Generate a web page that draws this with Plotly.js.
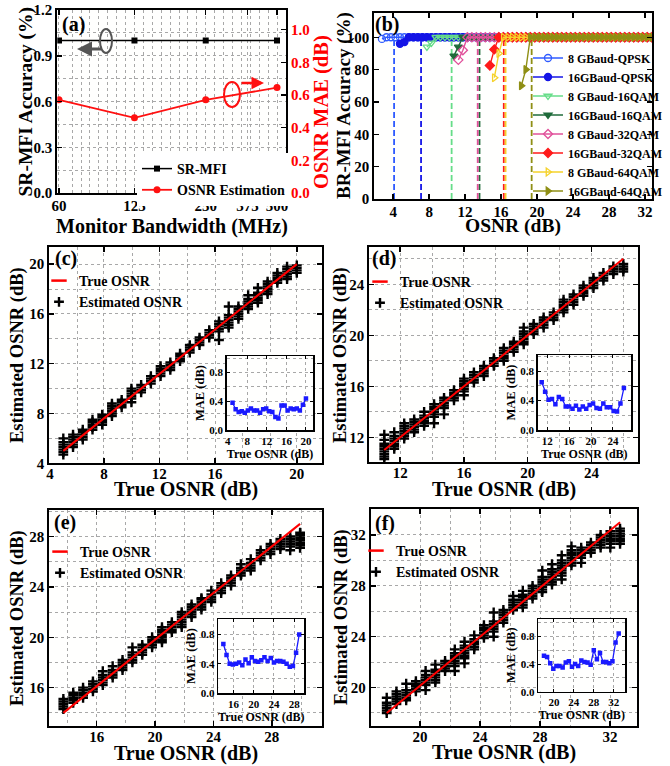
<!DOCTYPE html>
<html><head><meta charset="utf-8">
<script src="https://cdn.plot.ly/plotly-3.0.1.min.js"></script>
<style>html,body{margin:0;padding:0;background:#fff}#chart{width:670px;height:766px}</style>
</head><body><div id="chart"></div>
<script>
// ================= DATA =================
// (a) monitor bandwidth study
const bandwidthMHz = [60, 125, 250, 500];
const bandwidthTicks = [60, 125, 250, 375, 500];
const srMfiAccuracy = [1.0, 1.0, 1.0, 1.0];
const osnrMaeA = [0.57, 0.46, 0.57, 0.645];

// (b) BR-MFI accuracy vs OSNR
const seriesNamesB = ['8 GBaud-QPSK','16GBaud-QPSK','8 GBaud-16QAM','16GBaud-16QAM',
                      '8 GBaud-32QAM','16GBaud-32QAM','8 GBaud-64QAM','16GBaud-64QAM'];
const osnrGridB = [2.75,3.25,3.75,4.25,4.75,5.25,5.75,6.25,6.75,7.25,7.75,8.25,8.75,9.25,9.75,
  10.25,10.75,11.25,11.75,12.25,12.75,13.25,13.75,14.25,14.75,15.25,15.75,16.25,16.75,17.25,
  17.75,18.25,18.75,19.25,19.75,20.25,20.75,21.25,21.75,22.25,22.75,23.25,23.75,24.25,24.75,
  25.25,25.75,26.25,26.75,27.25,27.75,28.25,28.75,29.25,29.75,30.25,30.75,31.25,31.75,32.25,32.75];
const acc8QPSK = [99,
  100,100,100,100,100,100,100,100,100,100,
  100,100,100,100,100,100,100,100,100,100,
  100,100,100,100,100,100,100,100,100,100,
  100,100,100,100,100,100,100,100,100,100,
  100,100,100,100,100,100,100,100,100,100,
  100,100,100,100,100,100,100,100,100,100];
const acc16QPSK = [96,97,
  100,100,100,100,100,100,100,100,100,100,
  100,100,100,100,100,100,100,100,100,100,
  100,100,100,100,100,100,100,100,100,100,
  100,100,100,100,100,100,100,100,100,100,
  100,100,100,100,100,100,100,100,100,100,
  100,100,100,100,100];
const acc8QAM16 = [94,96.5,
  100,100,100,100,100,100,100,100,100,100,
  100,100,100,100,100,100,100,100,100,100,
  100,100,100,100,100,100,100,100,100,100,
  100,100,100,100,100,100,100,100,100,100,
  100,100,100,100,100,100,100,100,100];
const acc16QAM16 = [88.5,94,
  100,100,100,100,100,100,100,100,100,100,
  100,100,100,100,100,100,100,100,100,100,
  100,100,100,100,100,100,100,100,100,100,
  100,100,100,100,100,100,100,100,100,100,
  100,100,100];
const acc8QAM32 = [86,92,
  100,100,100,100,100,100,100,100,100,100,
  100,100,100,100,100,100,100,100,100,100,
  100,100,100,100,100,100,100,100,100,100,
  100,100,100,100,100,100,100,100,100,100,
  100,100];
const acc16QAM32 = [82.5,92.5,
  100,100,100,100,100,100,100,100,100,100,
  100,100,100,100,100,100,100,100,100,100,
  100,100,100,100,100,100,100,100,100,100,
  100,100,100,100,100];
const acc8QAM64 = [75,90,
  100,100,100,100,100,100,100,100,100,100,
  100,100,100,100,100,100,100,100,100,100,
  100,100,100,100,100,100,100,100,100,100,
  100,100,100,100];
const acc16QAM64 = [70,80,
  100,100,100,100,100,100,100,100,100,100,
  100,100,100,100,100,100,100,100,100,100,
  100,100,100,100,100,100,100,100];
const thresholdOsnrB = [4.1, 7.1, 10.5, 13.6, 13.4, 16.3, 16.5, 19.4];
const thresholdSpanB = [0, 100];

// (c)-(f) OSNR estimation
const trueC = [5,5.625,6.25,6.875,7.5,8.125,8.75,9.375,10,10.625,11.25,11.875,12.5,13.125,13.75,14.375,15,15.625,16.25,16.875,17.5,18.125,18.75,19.375,20];
const estC = [[4.7,4.9,5.1,5.3,5.5,5.7,6.0],[5.3,5.5,5.7,5.9,6.1,6.3],[5.9,6.1,6.3,6.5,6.7],[6.7,6.9,7.1,7.3,7.5],
  [7.1,7.3,7.5,7.7,7.9],[7.8,8.0,8.2,8.4,8.6,8.8],[8.5,8.7,8.9,9.1],[8.9,9.2,9.4,9.6,9.8,10.0],[9.7,9.9,10.1,10.3],
  [10.4,10.6,10.8,11.0],[11.0,11.2,11.4,11.6,11.8],[11.5,11.7,11.9,12.1],[12.2,12.4,12.6,12.8],[12.9,13.1,13.3,13.5],
  [13.5,13.7,13.9,14.1],[14.1,14.3,14.5,14.7],[13.9,14.6,14.8,15.0,15.2,15.4],[14.9,15.1,15.3,15.5,15.7,15.9,16.6],
  [15.6,15.8,16.0,16.2,16.4,16.6],[16.4,16.6,16.8,17.0,17.2,17.5],[16.9,17.1,17.3,17.5,17.7,18.1],[17.6,17.8,18.0,18.2,18.4,18.6],
  [18.5,18.7,18.9,19.1,19.3],[18.8,19.0,19.2,19.4,19.6,19.8],[19.3,19.5,19.7,19.9]];
const maeC = [0.38,0.29,0.25,0.26,0.24,0.27,0.30,0.27,0.27,0.24,0.29,0.30,0.26,0.25,0.18,0.16,0.34,0.34,0.27,0.30,0.29,0.30,0.27,0.35,0.44];

const trueD = [11,11.625,12.25,12.875,13.5,14.125,14.75,15.375,16,16.625,17.25,17.875,18.5,19.125,19.75,20.375,21,21.625,22.25,22.875,23.5,24.125,24.75,25.375,26];
const estD = [[10.3,10.5,10.7,10.9,11.1,11.3,11.5,11.8,12.2],[11.1,11.3,11.5,11.7,11.9,12.1,12.4],[11.9,12.1,12.3,12.5,12.7,12.9,13.1],
  [12.4,12.6,12.8,13.0,13.2,13.4],[12.9,13.1,13.3,13.5,13.7,14.0],[13.1,13.6,13.8,14.0,14.2,14.4,14.6],[13.8,14.3,14.5,14.7,14.9,15.1],
  [14.9,15.1,15.3,15.5,15.7],[15.3,15.6,15.8,16.0,16.2,16.4,16.6],[16.3,16.5,16.7,16.9,17.1],[16.8,17.0,17.2,17.4,17.6],
  [17.6,17.8,18.0,18.2],[18.0,18.2,18.4,18.6,18.8,19.0],[18.7,18.9,19.1,19.3,19.5],[19.3,19.5,19.7,19.9,20.1,20.3,20.6],
  [20.1,20.3,20.5,20.7,20.9],[20.6,20.8,21.0,21.2,21.4],[21.2,21.4,21.6,21.8],[21.8,22.0,22.2,22.4,22.6,22.8],
  [22.4,22.6,22.8,23.0,23.2],[23.1,23.3,23.5,23.7,23.9],[23.7,23.9,24.1,24.3,24.5],[24.3,24.5,24.7,24.9],[24.8,25.0,25.2,25.4],[25.0,25.2,25.4,25.6]];
const maeD = [0.65,0.52,0.41,0.42,0.35,0.45,0.42,0.32,0.32,0.29,0.33,0.28,0.32,0.29,0.34,0.36,0.30,0.29,0.36,0.31,0.31,0.26,0.25,0.36,0.57];

const trueE = [14,14.625,15.25,15.875,16.5,17.125,17.75,18.375,19,19.625,20.25,20.875,21.5,22.125,22.75,23.375,24,24.625,25.25,25.875,26.5,27.125,27.75,28.375,29];
const estE = [[14.3,14.5,14.7,14.9,15.1],[14.8,15.0,15.2,15.4,15.6],[15.2,15.4,15.6,15.8,16.0],[15.7,15.9,16.1,16.3,16.5],
  [16.2,16.4,16.6,16.8,17.0,17.3],[16.8,17.0,17.2,17.4,17.7],[17.4,17.6,17.8,18.0,18.2],[18.0,18.2,18.4,18.6,18.8,19.2],
  [18.6,18.8,19.0,19.2,19.4],[19.2,19.4,19.6,19.8,20.0],[19.6,19.8,20.0,20.2,20.4,20.6,20.8],[20.4,20.6,20.8,21.0,21.2],
  [20.8,21.0,21.2,21.4,21.6,21.8,22.0],[21.6,21.8,22.0,22.2,22.4,22.6],[22.2,22.4,22.6,22.8,23.0,23.1],[22.8,23.0,23.2,23.4,23.7],
  [23.5,23.7,23.9,24.1,24.3],[24.1,24.3,24.5,24.7,24.9],[24.9,25.1,25.3,25.5,25.8],[25.3,25.5,25.7,25.9,26.2],
  [26.1,26.3,26.5,26.7,26.9],[26.6,26.8,27.0,27.2,27.4],[27.0,27.2,27.4,27.6,27.8],[26.9,27.2,27.4,27.6,27.8,28.0],[27.1,27.3,27.5,27.7,27.9,28.1,28.3]];
const maeE = [0.67,0.52,0.40,0.39,0.40,0.42,0.38,0.46,0.41,0.49,0.44,0.43,0.45,0.49,0.44,0.48,0.42,0.44,0.44,0.43,0.40,0.36,0.37,0.55,0.80];

const trueF = [18,18.625,19.25,19.875,20.5,21.125,21.75,22.375,23,23.625,24.25,24.875,25.5,26.125,26.75,27.375,28,28.625,29.25,29.875,30.5,31.125,31.75,32.375,33];
const estF = [[18.0,18.2,18.4,18.6,18.8,19.2],[18.7,18.9,19.1,19.3,19.5,19.7],[19.0,19.2,19.4,19.6,19.8,20.3],[19.7,19.9,20.1,20.3,20.5],
  [19.8,20.2,20.4,20.6,20.8,21.0,21.3],[20.4,20.6,20.8,21.0,21.2,21.4,21.8],[21.3,21.5,21.7,21.9,22.1],[21.3,21.7,21.9,22.1,22.3,22.5,22.7,23.0],
  [21.9,22.3,22.5,22.7,22.9,23.1,23.3,23.6],[23.0,23.2,23.4,23.6,23.8,24.1],[23.9,24.1,24.3,24.5,24.7,24.9],[24.0,24.4,24.6,24.8,25.0,25.2,25.9],
  [25.1,25.3,25.5,25.7,25.9,26.1],[26.1,26.3,26.5,26.7,26.9,27.2],[26.3,26.5,26.7,26.9,27.1,27.3,27.6],[27.0,27.2,27.4,27.6,27.8,28.0],
  [27.5,27.7,27.9,28.1,28.3,28.5,28.7,29.2],[28.1,28.3,28.5,28.7,28.9,29.1,29.3,29.7],[28.5,28.8,29.0,29.2,29.4,29.6,29.8,30.0,30.4],
  [29.6,29.8,30.0,30.2,30.4,30.6,30.8,31.1],[29.8,30.2,30.4,30.6,30.8,31.0],[30.6,30.8,31.0,31.2,31.4],[31.0,31.2,31.4,31.6,31.8,32.0],
  [31.0,31.3,31.5,31.7,31.9,32.1,32.3],[31.3,31.5,31.7,31.9,32.1,32.3,32.5]];
const maeF = [0.52,0.50,0.41,0.33,0.37,0.37,0.35,0.42,0.44,0.36,0.40,0.37,0.45,0.43,0.42,0.39,0.60,0.47,0.56,0.43,0.43,0.41,0.44,0.71,0.84];

// ================= STYLE HELPERS =================
const FONT = "'Liberation Serif','Times New Roman',Times,serif";
function fnt(size, color) { return {family: FONT, size: size, color: color || 'black', weight: 'bold'}; }
const GRID = {showgrid: true, gridcolor: '#a8a8a8', griddash: 'dot', gridwidth: 1};
function ax(o) {
  return Object.assign({showline: true, linewidth: 2, linecolor: 'black', mirror: 'ticks', ticks: 'inside',
    ticklen: 5, tickwidth: 1.5, tickcolor: 'black', tickfont: fnt(15), zeroline: false,
    showgrid: false, automargin: false}, o);
}
function axIn(o) {
  return Object.assign({showline: true, linewidth: 1.5, linecolor: 'black', mirror: 'ticks', ticks: 'inside',
    ticklen: 3, tickwidth: 1, tickcolor: 'black', tickfont: fnt(11), zeroline: false,
    automargin: false}, GRID, o);
}
function minorGrid(o) { return Object.assign({ticks: '', showgrid: true, gridcolor: '#a8a8a8', griddash: 'dot', gridwidth: 1}, o); }
function legendAt(xpx, ypx, size, bg) {
  return {x: xpx / 670, y: 1 - ypx / 766, xanchor: 'left', yanchor: 'top', bgcolor: bg || 'rgba(0,0,0,0)',
    borderwidth: 0, font: fnt(size), itemwidth: 30, tracegroupgap: 0};
}

// ================= TRACES =================
const traces = [];

// (a)
traces.push({x: bandwidthMHz, y: srMfiAccuracy, name: 'SR-MFI', mode: 'lines+markers', xaxis: 'x', yaxis: 'y',
  line: {color: 'black', width: 1.5}, marker: {symbol: 'square', size: 6, color: 'black'}, legend: 'legend'});
traces.push({x: bandwidthMHz, y: osnrMaeA, name: 'OSNR Estimation', mode: 'lines+markers', xaxis: 'x', yaxis: 'y2',
  line: {color: '#ff1010', width: 1.8}, marker: {symbol: 'circle', size: 7, color: '#ff1010'}, legend: 'legend'});

// (b)
const colorsB = ['#2f5bff', '#1414e6', '#66dd88', '#1f6b3a', '#e0509a', '#ff1a1a', '#f5d22a', '#8f8f14'];
const symbolsB = ['circle-open', 'circle', 'triangle-down-open', 'triangle-down', 'diamond-open', 'diamond',
                  'triangle-right-open', 'triangle-right'];
const accB = [acc8QPSK, acc16QPSK, acc8QAM16, acc16QAM16, acc8QAM32, acc16QAM32, acc8QAM64, acc16QAM64];
thresholdOsnrB.forEach((t, i) => {
  traces.push({x: [t, t], y: thresholdSpanB, mode: 'lines', xaxis: 'x2', yaxis: 'y3', showlegend: false,
    hoverinfo: 'skip', line: {color: colorsB[i], width: 1.8, dash: '6px,3px'}});
});
accB.forEach((acc, i) => {
  traces.push({x: osnrGridB.slice(osnrGridB.length - acc.length), y: acc, name: seriesNamesB[i],
    mode: 'lines+markers', xaxis: 'x2', yaxis: 'y3', legend: 'legend2',
    line: {color: colorsB[i], width: 1.4},
    marker: {symbol: symbolsB[i], size: 7, color: colorsB[i], line: {color: colorsB[i], width: 1.3}}});
});

// (c)-(f)
function flatten(tr, est) {
  const xs = [], ys = [];
  est.forEach((vals, i) => vals.forEach(v => { xs.push(tr[i]); ys.push(v); }));
  return {xs, ys};
}
const panels = [
  {tr: trueC, est: estC, mae: maeC, xa: 'x3', ya: 'y4', xi: 'x4', yi: 'y5', leg: 'legend3'},
  {tr: trueD, est: estD, mae: maeD, xa: 'x5', ya: 'y6', xi: 'x6', yi: 'y7', leg: 'legend4'},
  {tr: trueE, est: estE, mae: maeE, xa: 'x7', ya: 'y8', xi: 'x8', yi: 'y9', leg: 'legend5'},
  {tr: trueF, est: estF, mae: maeF, xa: 'x9', ya: 'y10', xi: 'x10', yi: 'y11', leg: 'legend6'}
];
panels.forEach(p => {
  const fl = flatten(p.tr, p.est);
  // legend-only entry for the reference line (short red dash symbol)
  traces.push({x: [null], y: [null], name: 'True OSNR', mode: 'markers', xaxis: p.xa, yaxis: p.ya, legend: p.leg,
    marker: {symbol: 'line-ew-open', size: 11, color: '#ff0000', line: {color: '#ff0000', width: 2.5}}});
  traces.push({x: fl.xs, y: fl.ys, name: 'Estimated OSNR', mode: 'markers', xaxis: p.xa, yaxis: p.ya, legend: p.leg,
    marker: {symbol: 'cross-thin-open', size: 7, color: 'black', line: {color: 'black', width: 2.4}}});
  traces.push({x: p.tr, y: p.tr, name: 'True OSNR', mode: 'lines', xaxis: p.xa, yaxis: p.ya, showlegend: false,
    line: {color: '#ff0000', width: 2}});
  traces.push({x: p.tr, y: p.mae, name: 'MAE', mode: 'lines+markers', xaxis: p.xi, yaxis: p.yi, showlegend: false,
    line: {color: '#1a1aff', width: 1.3}, marker: {symbol: 'square', size: 4.5, color: '#1a1aff'}});
});

// ================= LAYOUT =================
const gridA = [];
for (let k = -9; k <= 18; k++) {
  const v = 125 * Math.pow(2, k / 8);
  if (v > 58 && v < 545 && k % 8 !== 0) gridA.push(v);
}

function title(t, xp, yp, angle, size, color) {
  return {xref: 'paper', yref: 'paper', x: xp / 670, y: 1 - yp / 766, xanchor: 'center', yanchor: 'middle',
    text: t, textangle: angle, showarrow: false, font: fnt(size, color), borderpad: 0};
}

const layout = {
  width: 670, height: 766, margin: {l: 0, r: 0, t: 0, b: 0},
  paper_bgcolor: '#ffffff', plot_bgcolor: '#fffffe', showlegend: true,
  font: fnt(14),
  // (a)
  xaxis: ax({type: 'log', domain: [57.3/670, 286/670], anchor: 'y', range: [1.771, 2.737],
    tickvals: bandwidthTicks, ticktext: bandwidthTicks.map(String), ticklabelstandoff: -2, ...GRID,
    minor: minorGrid({tickvals: gridA})}),
  yaxis: ax({domain: [1 - 193/766, 1 - 10/766], anchor: 'x', range: [0, 1.2], tickvals: [0, 0.3, 0.6, 0.9, 1.2],
    tickformat: '.1f', mirror: false, ...GRID, minor: minorGrid({dtick: 0.15, tick0: 0})}),
  yaxis2: ax({overlaying: 'y', side: 'right', anchor: 'x', range: [0, 1.12], tickvals: [0, 0.2, 0.4, 0.6, 0.8, 1.0],
    tickformat: '.1f', tickfont: fnt(15, '#ff0000'), mirror: false}),
  // (b)
  xaxis2: ax({domain: [374.3/670, 651.7/670], anchor: 'y3', range: [1.9, 32.75], tickvals: [4, 8, 12, 16, 20, 24, 28, 32],
    ticklabelstandoff: -2}),
  yaxis3: ax({domain: [1 - 199/766, 1 - 13/766], anchor: 'x2', range: [0, 115], tickvals: [0, 20, 40, 60, 80, 100]}),
  // (c)
  xaxis3: ax({domain: [49.3/670, 321.7/670], anchor: 'y4', range: [4.1, 21.6], tickvals: [4.14, 7.61, 11.17, 14.75, 20],
    ticktext: ['4', '8', '12', '16', '20'], ticklabelstandoff: -4, ...GRID,
    minor: minorGrid({tickvals: [5.91, 9.42, 12.96, 16.53, 18.3]})}),
  yaxis4: ax({domain: [1 - 463.3/766, 1 - 246.7/766], anchor: 'x3', range: [4, 21.4], tickvals: [4, 8, 12, 16, 20],
    ...GRID, minor: minorGrid({dtick: 2, tick0: 0})}),
  xaxis4: axIn({domain: [226.7/670, 313.3/670], anchor: 'y5', range: [3.8, 21.5], tickvals: [4, 8, 12, 16, 20],
    title: {text: 'True OSNR (dB)', font: fnt(12), standoff: 1}}),
  yaxis5: axIn({domain: [1 - 430/766, 1 - 356/766], anchor: 'x4', range: [0, 1.03], tickvals: [0, 0.4, 0.8], tickformat: '.1f',
    minor: minorGrid({dtick: 0.2, tick0: 0}), title: {text: 'MAE (dB)', font: fnt(12.5), standoff: 2}}),
  // (d)
  xaxis5: ax({domain: [369.3/670, 638.3/670], anchor: 'y6', range: [10.06, 26.94], tickvals: [12, 16, 20, 24],
    ticklabelstandoff: -4, ...GRID, minor: minorGrid({dtick: 2, tick0: 0})}),
  yaxis6: ax({domain: [1 - 462.3/766, 1 - 246.7/766], anchor: 'x5', range: [10.04, 26.95], tickvals: [12, 16, 20, 24],
    ...GRID, minor: minorGrid({dtick: 2, tick0: 0})}),
  xaxis6: axIn({domain: [537.7/670, 631/670], anchor: 'y7', range: [10.27, 27.3], tickvals: [12, 16, 20, 24],
    title: {text: 'True OSNR (dB)', font: fnt(12), standoff: 1}}),
  yaxis7: axIn({domain: [1 - 430/766, 1 - 355/766], anchor: 'x6', range: [0, 1.02], tickvals: [0, 0.4, 0.8], tickformat: '.1f',
    minor: minorGrid({dtick: 0.2, tick0: 0}), title: {text: 'MAE (dB)', font: fnt(12.5), standoff: 2}}),
  // (e)
  xaxis7: ax({domain: [49.3/670, 321.7/670], anchor: 'y8', range: [13.11, 30.37], tickvals: [16.11, 19.81, 23.51, 27.21],
    ticktext: ['16', '20', '24', '28'], ticklabelstandoff: -4, ...GRID,
    minor: minorGrid({tickvals: [14.26, 17.96, 21.66, 25.36, 29.06]})}),
  yaxis8: ax({domain: [1 - 725.7/766, 1 - 510/766], anchor: 'x7', range: [12.98, 30.1], tickvals: [16, 20, 24, 28],
    ...GRID, minor: minorGrid({dtick: 2, tick0: 0})}),
  xaxis8: axIn({domain: [218.3/670, 304.3/670], anchor: 'y9', range: [13, 30], tickvals: [16, 20, 24, 28],
    title: {text: 'True OSNR (dB)', font: fnt(12), standoff: 1}}),
  yaxis9: axIn({domain: [1 - 693.3/766, 1 - 619/766], anchor: 'x8', range: [0, 1.01], tickvals: [0, 0.4, 0.8], tickformat: '.1f',
    minor: minorGrid({dtick: 0.2, tick0: 0}), title: {text: 'MAE (dB)', font: fnt(12.5), standoff: 2}}),
  // (f)
  xaxis9: ax({domain: [370.7/670, 636.7/670], anchor: 'y10', range: [16.97, 34.07], tickvals: [20.14, 24.0, 27.86, 32.36],
    ticktext: ['20', '24', '28', '32'], ticklabelstandoff: -4, ...GRID,
    minor: minorGrid({tickvals: [22.07, 25.93, 29.79]})}),
  yaxis10: ax({domain: [1 - 725.7/766, 1 - 509/766], anchor: 'x9', range: [17.0, 34.04], tickvals: [20, 24, 28, 32],
    ...GRID, minor: minorGrid({dtick: 2, tick0: 0})}),
  xaxis10: axIn({domain: [538.3/670, 625/670], anchor: 'y11', range: [16.86, 34.27], tickvals: [20, 24, 28, 32],
    title: {text: 'True OSNR (dB)', font: fnt(12), standoff: 1}}),
  yaxis11: axIn({domain: [1 - 691.7/766, 1 - 619/766], anchor: 'x10', range: [0, 1.05], tickvals: [0, 0.4, 0.8], tickformat: '.1f',
    minor: minorGrid({dtick: 0.2, tick0: 0}), title: {text: 'MAE (dB)', font: fnt(12.5), standoff: 2}}),

  legend: legendAt(137, 153, 14, '#ffffff'),
  legend2: legendAt(528, 43.5, 12),
  legend3: legendAt(39, 265, 14),
  legend4: legendAt(360, 266, 14),
  legend5: legendAt(40, 536, 14),
  legend6: legendAt(356, 535, 14),

  shapes: [
    {type: 'circle', xref: 'paper', yref: 'paper', x0: 100/670, x1: 112/670, y0: 1 - 53/766, y1: 1 - 29/766,
      line: {color: '#555555', width: 2}},
    {type: 'circle', xref: 'paper', yref: 'paper', x0: 224/670, x1: 240/670, y0: 1 - 107/766, y1: 1 - 82/766,
      line: {color: '#ff1010', width: 2}}
  ],
  annotations: [
    {xref: 'paper', yref: 'paper', x: 77/670, y: 1 - 49/766, ax: 26, ay: 0, text: '', showarrow: true,
      arrowhead: 2, arrowsize: 1, arrowwidth: 3, arrowcolor: '#555555'},
    {xref: 'paper', yref: 'paper', x: 264/670, y: 1 - 83/766, ax: -24, ay: 0, text: '', showarrow: true,
      arrowhead: 2, arrowsize: 1, arrowwidth: 2.5, arrowcolor: '#ff1010'},
    ...[['(a)', 60, 24], ['(b)', 373, 24], ['(c)', 53, 258], ['(d)', 370, 258], ['(e)', 52, 522], ['(f)', 373, 523]]
      .map(([t, xp, yp]) => ({xref: 'paper', yref: 'paper', x: xp/670, y: 1 - yp/766, xanchor: 'left', yanchor: 'middle',
        text: t, showarrow: false, font: fnt(20)})),
    // axis titles
    title('Monitor Bandwidth (MHz)', 171.6, 226.5, 0, 20),
    title('OSNR (dB)', 513, 226.5, 0, 19.5),
    title('True OSNR (dB)', 185.5, 489.5, 0, 20),
    title('True OSNR (dB)', 503.8, 489.5, 0, 20),
    title('True OSNR (dB)', 185.5, 753, 0, 20),
    title('True OSNR (dB)', 503.7, 752, 0, 20),
    title('SR-MFI Accuracy (%)', 26, 101.5, -90, 19.5),
    title('OSNR MAE (dB)', 321, 112, -90, 20.5, '#ff0000'),
    title('BR-MFI Accuracy (%)', 344, 106, -90, 19),
    title('Estimated OSNR (dB)', 17, 355, -90, 18.5),
    title('Estimated OSNR (dB)', 340, 355, -90, 18.5),
    title('Estimated OSNR (dB)', 17, 618, -90, 18.5),
    title('Estimated OSNR (dB)', 341, 617, -90, 18.5)
  ]
};

Plotly.newPlot('chart', traces, layout, {staticPlot: true, displayModeBar: false});
</script>
</body></html>
